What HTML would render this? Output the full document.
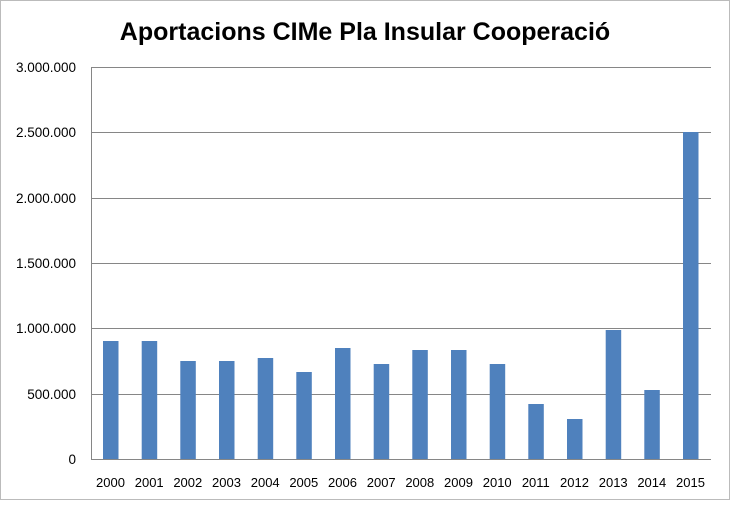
<!DOCTYPE html>
<html><head><style>body{margin:0;background:#fff}</style></head><body>
<svg width="730" height="500" xmlns="http://www.w3.org/2000/svg" font-family="Liberation Sans, sans-serif">
<rect x="0.5" y="0.5" width="729" height="499" fill="#fff" stroke="#bbb"/>
<text x="365" y="40" text-anchor="middle" font-size="25" font-weight="bold" fill="#000">Aportacions CIMe Pla Insular Cooperació</text>
<g stroke="#868686" stroke-width="1">
<line x1="91" y1="67.5" x2="711" y2="67.5"/>
<line x1="91" y1="132.5" x2="711" y2="132.5"/>
<line x1="91" y1="198.5" x2="711" y2="198.5"/>
<line x1="91" y1="263.5" x2="711" y2="263.5"/>
<line x1="91" y1="328.5" x2="711" y2="328.5"/>
<line x1="91" y1="394.5" x2="711" y2="394.5"/>
<line x1="91" y1="459.5" x2="711" y2="459.5"/>
<line x1="91.5" y1="67" x2="91.5" y2="459"/>
</g>
<g font-size="13.5" fill="#000" text-anchor="end">
<text x="76" y="72">3.000.000</text>
<text x="76" y="137">2.500.000</text>
<text x="76" y="203">2.000.000</text>
<text x="76" y="268">1.500.000</text>
<text x="76" y="333">1.000.000</text>
<text x="76" y="399">500.000</text>
<text x="76" y="464">0</text>
</g>
<g fill="#4f81bd">
<rect x="103" y="341" width="15.5" height="118"/>
<rect x="141.7" y="341" width="15.5" height="118"/>
<rect x="180.3" y="361" width="15.5" height="98"/>
<rect x="219" y="361" width="15.5" height="98"/>
<rect x="257.7" y="358" width="15.5" height="101"/>
<rect x="296.3" y="372" width="15.5" height="87"/>
<rect x="335" y="348" width="15.5" height="111"/>
<rect x="373.7" y="364" width="15.5" height="95"/>
<rect x="412.3" y="350" width="15.5" height="109"/>
<rect x="451" y="350" width="15.5" height="109"/>
<rect x="489.7" y="364" width="15.5" height="95"/>
<rect x="528.3" y="404" width="15.5" height="55"/>
<rect x="567" y="419" width="15.5" height="40"/>
<rect x="605.7" y="330" width="15.5" height="129"/>
<rect x="644.3" y="390" width="15.5" height="69"/>
<rect x="683" y="132" width="15.5" height="327"/>
</g>
<g font-size="13" fill="#000" text-anchor="middle">
<text x="110.5" y="487">2000</text><text x="149.2" y="487">2001</text><text x="187.8" y="487">2002</text><text x="226.5" y="487">2003</text>
<text x="265.2" y="487">2004</text><text x="303.8" y="487">2005</text><text x="342.5" y="487">2006</text><text x="381.2" y="487">2007</text>
<text x="419.8" y="487">2008</text><text x="458.5" y="487">2009</text><text x="497.2" y="487">2010</text><text x="535.8" y="487">2011</text>
<text x="574.5" y="487">2012</text><text x="613.2" y="487">2013</text><text x="651.8" y="487">2014</text><text x="690.5" y="487">2015</text>
</g>
</svg>
</body></html>
